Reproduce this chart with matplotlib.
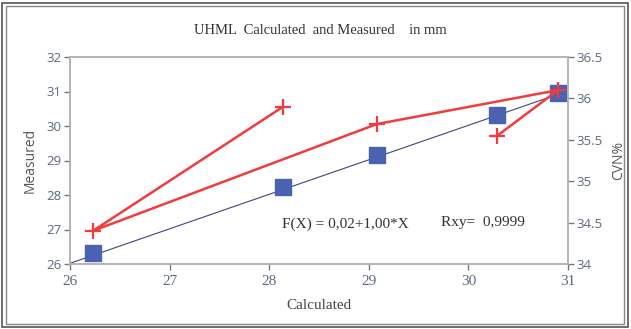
import matplotlib
matplotlib.use("Agg")
import matplotlib.pyplot as plt
from matplotlib.patches import Rectangle

# Data
calc = [26.23, 28.14, 29.08, 30.29, 30.90]
measured = [26.32, 28.23, 29.16, 30.32, 30.96]
cvn_x = [28.14, 26.23, 29.08, 30.90, 30.29]
cvn = [35.90, 34.40, 35.69, 36.10, 35.55]
fit_a, fit_b = 0.02, 1.00
fit_x = [26.0, 31.2]

xticks = [26, 27, 28, 29, 30, 31]
yticks = [26, 27, 28, 29, 30, 31, 32]
y2ticks = [34, 34.5, 35, 35.5, 36, 36.5]

serif = "Liberation Serif"
sans = "Open Sans"
tick_col = "#5c6a7e"
spine_col = "#b4b4b4"

fig = plt.figure(figsize=(6.31, 3.29), dpi=100)
ax = fig.add_axes([70/631, 1-264/329, (568-70)/631, (264-57)/329])
ax2 = ax.twinx()

# fit line
ax.plot(fit_x, [fit_a + fit_b*v for v in fit_x], color="#3c4680", lw=0.8, zorder=2)
ax.plot(calc, measured, ls="none", marker="s", ms=11, color="#4a62b0", zorder=3)

ax2.plot(cvn_x, cvn, color="#f03c3c", lw=1.8, marker="+", ms=11, mew=1.6, zorder=4)

ax.set_xlim(26, 31)
ax.set_ylim(26, 32)
ax2.set_ylim(34, 36.5)
ax.set_xticks(xticks)
ax.set_yticks(yticks)
ax2.set_yticks(y2ticks)
ax.set_xticklabels([str(t) for t in xticks], fontfamily=serif, fontsize=11, color=tick_col)
ax.set_yticklabels([str(t) for t in yticks], fontfamily=sans, fontsize=9.5, color=tick_col)
ax2.set_yticklabels([("%g" % t) for t in y2ticks], fontfamily=sans, fontsize=9.5, color=tick_col)

for a in (ax, ax2):
    for s in a.spines.values():
        s.set_color(spine_col)
        s.set_linewidth(1.2)
    a.tick_params(direction="out", length=4, width=1, color="#777777", pad=2)
ax.tick_params(axis="x", pad=4)

ax.set_xlabel("Calculated", fontfamily=serif, fontsize=11, color="#444444", labelpad=8)
ax.set_ylabel("Measured", fontfamily=sans, fontsize=10, color="#555555", labelpad=6)
ax2.set_ylabel("CVN%", fontfamily=sans, fontsize=10, color="#555555", rotation=90, labelpad=6)

fig.text(320/631, 1-31/329, "UHML  Calculated  and Measured    in mm", fontfamily=serif,
         fontsize=10.5, color="#333333", ha="center", va="center")

ax.text(28.13, 27.15, "F(X) = 0,02+1,00*X", fontfamily=serif, fontsize=11, color="#333333",
        ha="left", va="center")
ax.text(29.72, 27.2, "Rxy=  0,9999", fontfamily=serif, fontsize=11, color="#333333",
        ha="left", va="center")

# outer double frame
fig.patches.append(Rectangle((2/631, 2/329), 626/631, 324/329, transform=fig.transFigure,
                             fill=False, ec="#555555", lw=1.2))
fig.patches.append(Rectangle((6/631, 5/329), 618/631, 318/329, transform=fig.transFigure,
                             fill=False, ec="#888888", lw=1.0))

fig.savefig("out.png", dpi=100)
